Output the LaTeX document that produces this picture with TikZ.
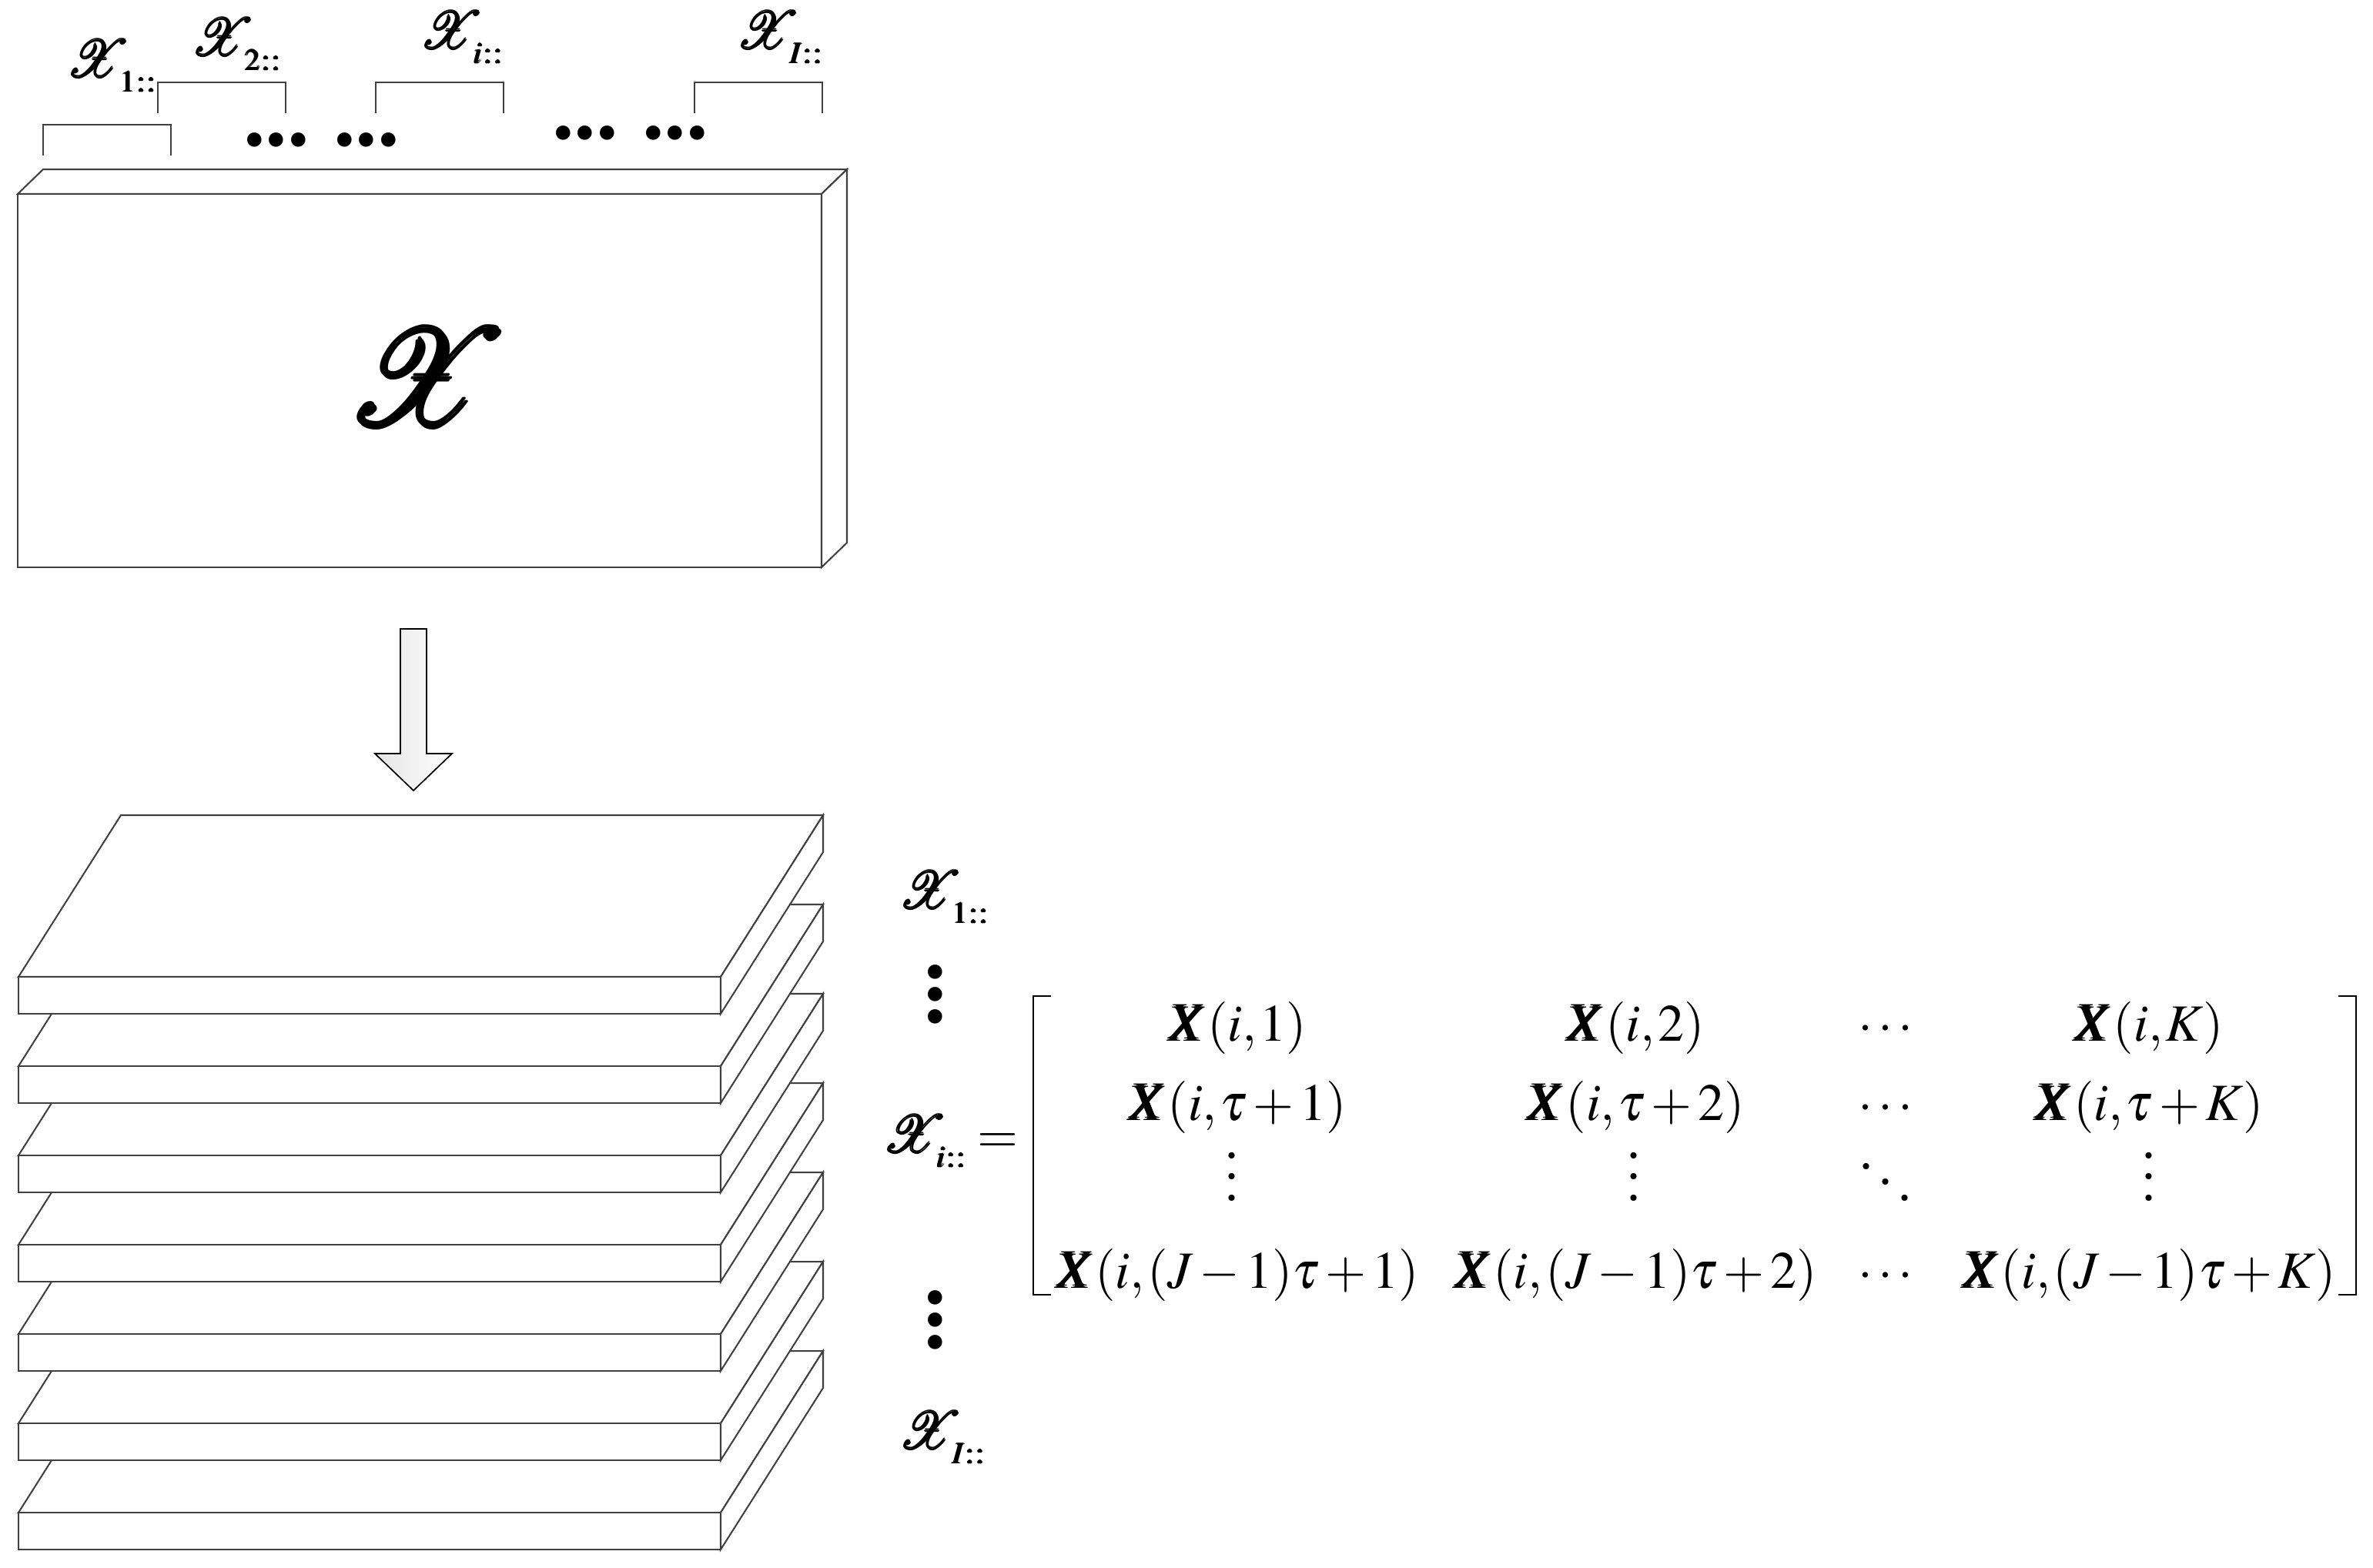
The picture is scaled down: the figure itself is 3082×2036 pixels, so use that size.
\documentclass[tikz,border=0pt]{standalone}
\usepackage{mathptmx}
\usepackage{mathrsfs}
\usepackage{bm}
\usepackage[no-math]{fontspec}
\setmainfont{Liberation Serif}
\usetikzlibrary{calc}
% scalable rsfs for the large tensor letters
\DeclareFontFamily{U}{rsfs}{\skewchar\font127 }
\DeclareFontShape{U}{rsfs}{m}{n}{<-6> rsfs5 <6-8> rsfs7 <8-> rsfs10}{}
\DeclareMathSizes{10}{10}{5.8}{4.5}
\definecolor{edgegray}{HTML}{404040}
% heavy script X (overprinted)
\newcommand{\fatX}{\mathord{\hbox{\ooalign{$\mathscr{X}$\cr
  \kern.035em$\mathscr{X}$\cr
  \kern.018em\raise.02em\hbox{$\mathscr{X}$}\cr
  \kern.018em\lower.02em\hbox{$\mathscr{X}$}\cr}}}}
\newcommand{\xten}[1]{\fatX\mkern-4mu\raisebox{-2.9pt}{$\scriptstyle\bm{#1}$}}
\tikzset{
  edge/.style={draw=edgegray, line width=0.3pt},
  face/.style={edge, fill=white},
  blockarrow/.style={draw=black, line width=0.25pt, left color=black!10, right color=white},
  lbl/.style={inner sep=0pt},
  entry/.style={inner sep=0pt, anchor=base},
  xentry/.style={entry, font={\thinmuskip=1mu\medmuskip=2mu plus 1mu minus 2mu}},
  dotrow/.style={inner sep=0pt, font=\bfseries\fontsize{16.8}{4.3}\selectfont},
  dotcol/.style={dotrow, align=center},
  matbr/.style={draw=black, line width=0.4pt}
}

\begin{document}
\begin{tikzpicture}[x=0.147pt, y=-0.147pt]
  \useasboundingbox (0,0) rectangle (3082,2036);

  % the whole tensor
  \draw[face] (23,252) -- ++(33,-32) -- ++(1044,0) -- ++(-33,32) -- cycle;
  \draw[face] (23,252) rectangle (1067,737);
  \draw[face] (1067,252) -- ++(33,-32) -- ++(0,485) -- ++(-33,32) -- cycle;
  \node (bigX) at (555,492) {\fontsize{26}{30}\selectfont$\fatX$};

  % slice brackets and labels
  \foreach \bx/\by in {56/162, 205/107, 488/107, 902/107}
    \draw[edge] (\bx,\by+40) -- (\bx,\by) -- (\bx+166,\by) -- (\bx+166,\by+40);
  \node[lbl, anchor=base west] (x1) at (84,100) {$\xten{1::}$};
  \node[lbl, anchor=base west] (x2) at (246,72) {$\xten{2::}$};
  \node[lbl, anchor=base west] (xi) at (543,63) {$\xten{i::}$};
  \node[lbl, anchor=base west] (xI) at (954,63) {$\xten{I::}$};
  \foreach \dx/\dy [count=\n] in {359/182, 476/182, 760/173, 877/173}
    \node[dotrow] (dots\n) at (\dx,\dy) {...};

  % arrow down to the slices
  \coordinate (arrtail) at (537,817);
  \coordinate (arrtip) at (537,1027);
  \draw[blockarrow] ($(arrtail)+(-17,0)$) -- ($(arrtail)+(17,0)$) -- ($(arrtip)+(17,-48)$)
    -- ($(arrtip)+(50,-48)$) -- (arrtip) -- ($(arrtip)+(-50,-48)$) -- ($(arrtip)+(-17,-48)$) -- cycle;

  % stack of horizontal slices, back to front
  \foreach \k in {6,5,...,0} {
    \pgfmathsetmacro{\sy}{1269+116*\k}
    \draw[face] (24,\sy) -- ++(133,-210) -- ++(912,0) -- ++(-133,210) -- cycle;
    \draw[face] (24,\sy) rectangle ++(912,48);
    \draw[face] (936,\sy) -- ++(133,-210) -- ++(0,48) -- ++(-133,210) -- cycle;
  }

  % slice names
  \node[lbl, anchor=base west] (r1) at (1165,1180) {$\xten{1::}$};
  \node[dotcol] (vd1) at (1215,1292) {.\\.\\.};
  \node[lbl, anchor=base east] (ri) at (1324,1497) {$\xten{i::}=$};
  \node[dotcol] (vd2) at (1215,1715) {.\\.\\.};
  \node[lbl, anchor=base west] (rI) at (1165,1882) {$\xten{I::}$};

  % matrix of slice i
  \foreach \pre/\ry/\r in {{}/1352/1, {\tau+}/1455/2, {(J-1)\tau+}/1673/4} {
    \node[xentry] (m\r1) at (1607,\ry) {$\bm{X}(i,\pre 1)$};
    \node[xentry] (m\r2) at (2124,\ry) {$\bm{X}(i,\pre 2)$};
    \node[entry] (m\r3) at (2449,\ry) {$\cdots$};
    \node[xentry] (m\r4) at (2791,\ry) {$\bm{X}(i,\pre K)$};
  }
  \node[entry] (m31) at (1600,1559) {$\vdots$};
  \node[entry] (m32) at (2122,1559) {$\vdots$};
  \node[entry] (m33) at (2449,1566) {$\ddots$};
  \node[entry] (m34) at (2791,1559) {$\vdots$};
  \draw[matbr] (1365,1294) -- (1342,1294) -- (1342,1682) -- (1365,1682);
  \draw[matbr] (3037,1294) -- (3060,1294) -- (3060,1682) -- (3037,1682);
\end{tikzpicture}
\end{document}
